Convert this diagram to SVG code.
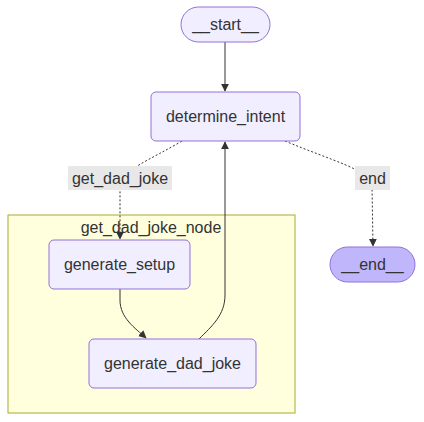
<svg xmlns="http://www.w3.org/2000/svg" width="424" height="422" viewBox="0 0 424 422">
<defs>
<style>
text{font-family:"Liberation Sans",Arial,sans-serif;font-size:16px;fill:#333;text-anchor:middle;dominant-baseline:central}
.node{fill:#ECECFF;fill:#f0eeff;stroke:#9370DB;stroke-width:1}
.endn{fill:#bfb6fc;stroke:#9370DB;stroke-width:1}
.cluster{fill:#ffffde;stroke:#aaaa33;stroke-width:1}
.e{fill:none;stroke:#333;stroke-width:1}
.d{stroke-dasharray:2 2}
.lbl{fill:#e8e8e8}
</style>
<marker id="arr" viewBox="0 0 10 10" refX="9" refY="5" markerWidth="8" markerHeight="8" orient="auto-start-reverse" markerUnits="userSpaceOnUse">
<path d="M0,0 L10,5 L0,10 z" fill="#333"/>
</marker>
</defs>
<g id="cluster_get_dad_joke_node">
<rect class="cluster" x="8" y="215" width="287" height="198"/>
<text x="151" y="227">get_dad_joke_node</text>
</g>
<g id="connectors">
<path class="e" d="M225,42 L225,91" marker-end="url(#arr)"/>
<path class="e d" d="M182,141 C150,160 122,170 120,185 L120,239" marker-end="url(#arr)"/>
<path class="e d" d="M285,141 C330,160 370,170 372,185 L373,246" marker-end="url(#arr)"/>
<path class="e" d="M120,289 L120,300 C120,318 135,328 146,338" marker-end="url(#arr)"/>
<path class="e" d="M199,339 C212,326 225,315 225,295 L225,142" marker-end="url(#arr)"/>
</g>
<g id="label_get_dad_joke">
<rect class="lbl" x="68" y="166" width="104" height="24"/>
<text x="120" y="178">get_dad_joke</text>
</g>
<g id="label_end">
<rect class="lbl" x="355" y="166" width="35" height="24"/>
<text x="372.5" y="178">end</text>
</g>
<g id="node_start">
<rect class="node" x="181" y="7" width="89" height="35" rx="17.5"/>
<text x="225.5" y="24.5">__start__</text>
</g>
<g id="node_determine_intent">
<rect class="node" x="151" y="92" width="149" height="49" rx="5"/>
<text x="225.5" y="116.5">determine_intent</text>
</g>
<g id="node_generate_setup">
<rect class="node" x="49" y="240" width="141" height="49" rx="5"/>
<text x="119.5" y="264.5">generate_setup</text>
</g>
<g id="node_generate_dad_joke">
<rect class="node" x="89" y="339" width="167" height="49" rx="5"/>
<text x="172.5" y="363.5">generate_dad_joke</text>
</g>
<g id="node_end">
<rect class="endn" x="330" y="247" width="85" height="35" rx="17.5"/>
<text x="372.5" y="264.5">__end__</text>
</g>
</svg>
